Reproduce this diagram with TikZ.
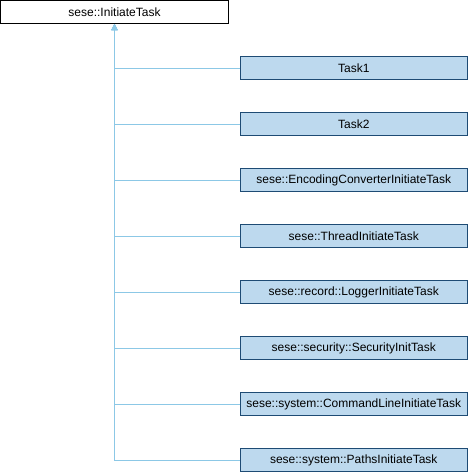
\documentclass[tikz,border=0pt]{standalone}
\usepackage{fontspec}
\setmainfont{Liberation Sans}
\usetikzlibrary{arrows.meta}
\definecolor{boxfill}{HTML}{BDD9EE}
\definecolor{boxline}{HTML}{1E4B74}
\definecolor{edgeline}{HTML}{8CC8E6}
\tikzset{
  classbox/.style = {draw = boxline, fill = boxfill, line width = 1pt, minimum width = 227.5pt, minimum height = 23pt, inner sep = 0pt, font = \fontsize{12}{14}\selectfont},
  basebox/.style = {draw = black, fill = white, line width = 1pt, minimum width = 227.5pt, minimum height = 23pt, inner sep = 0pt, font = \fontsize{12}{14}\selectfont},
  inherit/.style = {draw = edgeline, line width = 1pt, -{Triangle[width = 6pt, length = 6pt]}}
}
\begin{document}
\begin{tikzpicture}[x = 1pt, y = -1pt]
\useasboundingbox (0,0) rectangle (468,472);
\node[basebox] (base) at (114.5,12) {sese::InitiateTask};
\foreach \n/\name in {1/Task1, 2/Task2, 3/sese::EncodingConverterInitiateTask, 4/sese::ThreadInitiateTask, 5/sese::record::LoggerInitiateTask, 6/sese::security::SecurityInitTask, 7/sese::system::CommandLineInitiateTask, 8/sese::system::PathsInitiateTask}
{
  \node[classbox] (task\n) at (353.75,68+56*\n-56) {\name};
  \draw[inherit] ([yshift = -0.5pt]task\n.west) -| (base.south);
}
\end{tikzpicture}
\end{document}
